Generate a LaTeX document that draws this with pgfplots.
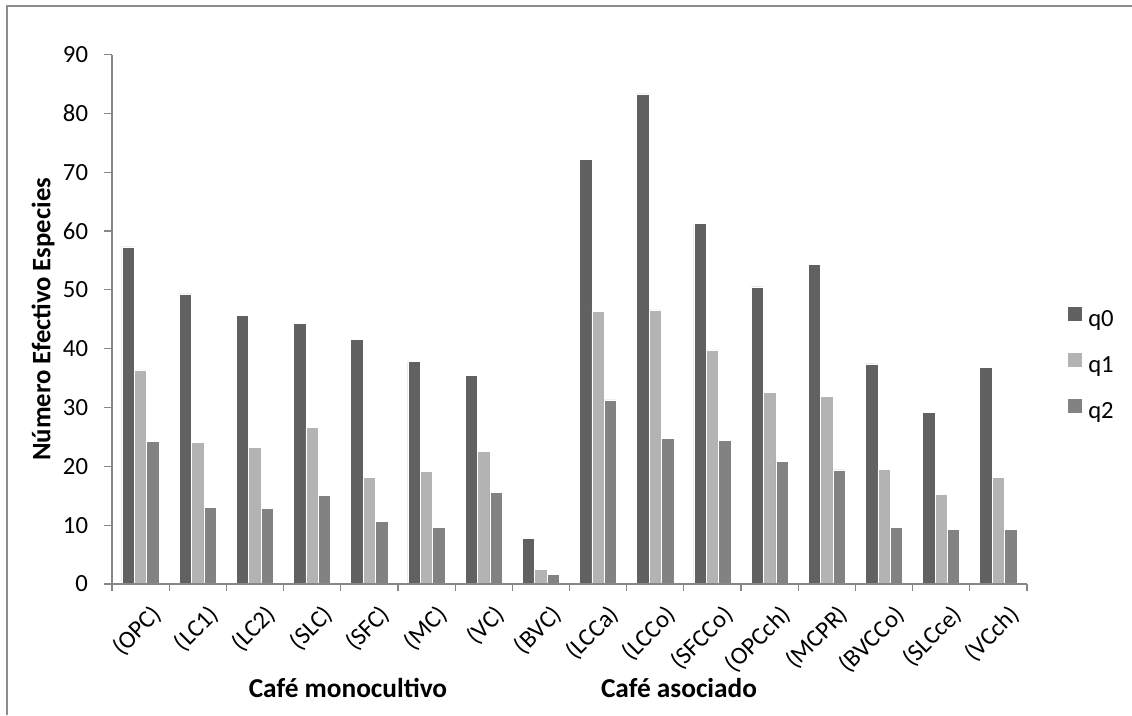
\documentclass[border=0pt]{standalone}
\usepackage{pgfplots}
\pgfplotsset{compat=1.18}
\usepackage{fontspec}
\setmainfont{Carlito}
\definecolor{cqa}{HTML}{616161}
\definecolor{cqb}{HTML}{B3B3B3}
\definecolor{cqc}{HTML}{828282}
\definecolor{axgray}{HTML}{878787}
\definecolor{framegray}{HTML}{8C8C8C}
\begin{document}
\begin{tikzpicture}[x=0.75pt,y=-0.75pt]
\path[use as bounding box] (0,0) rectangle (1132,715);
\draw[color=framegray, line width=0.8pt] (7,715) -- (7,6) -- (1132,6);
\begin{axis}[
  at={(84pt,-438pt)}, anchor=south west,
  scale only axis, width=686.25pt, height=397.1pt,
  xmin=-0.5, xmax=15.5, ymin=0, ymax=90,
  axis on top,
  axis lines=left, axis line style={-, color=axgray, line width=0.9pt},
  ybar=0pt, bar width=9.3pt,
  ytick={0,10,...,90},
  /pgf/number format/assume math mode=true,
  tick align=outside, major tick length=6pt, minor tick length=5.5pt,
  tick style={color=axgray, line width=0.9pt},
  yticklabel style={font=\fontsize{18.5}{22}\selectfont, inner sep=0pt, anchor=east, xshift=-11.8pt},
  xtick={0,1,...,15},
  xticklabels={(OPC),(LC1),(LC2),(SLC),(SFC),(MC),(VC),(BVC),(LCCa),(LCCo),(SFCCo),(OPCch),(MCPR),(BVCCo),(SLCce),(VCch)},
  major x tick style={draw=none},
  minor xtick={-0.5,0.5,...,15.5},
  minor x tick style={color=axgray, line width=0.9pt},
  xticklabel style={font=\fontsize{18.5}{22}\selectfont, rotate=45, anchor=east, inner sep=0pt, yshift=-19pt, xshift=-1pt},
  ylabel={\textbf{Número Efectivo Especies}},
  ylabel style={font=\fontsize{20}{24}\selectfont, at={(axis description cs:-0.0754,0.5)}, anchor=center},
  legend style={draw=none, fill=none, inner sep=0pt, at={(axis description cs:1.0448,0.5239)}, anchor=north west,
    font=\fontsize{18.5}{22}\selectfont, row sep=13.75pt, column sep=2.5pt,
    nodes={inner sep=2pt, text height=12pt, text depth=4pt}},
  legend cell align=left,
  legend image code/.code={\path[#1, draw=none] (0pt,0.3pt) rectangle (10.5pt,10.8pt);},
  clip=false,
]
\addplot[fill=cqa, draw=white, line width=0.5pt] coordinates {(0,57.3) (1,49.3) (2,45.7) (3,44.3) (4,41.6) (5,37.8) (6,35.4) (7,7.8) (8,72.2) (9,83.3) (10,61.3) (11,50.5) (12,54.3) (13,37.4) (14,29.1) (15,36.8)};
\addplot[fill=cqb, draw=white, line width=0.5pt] coordinates {(0,36.4) (1,24.0) (2,23.2) (3,26.6) (4,18.1) (5,19.1) (6,22.6) (7,2.5) (8,46.4) (9,46.6) (10,39.8) (11,32.6) (12,31.9) (13,19.5) (14,15.3) (15,18.1)};
\addplot[fill=cqc, draw=white, line width=0.5pt] coordinates {(0,24.2) (1,13.0) (2,12.9) (3,15.1) (4,10.6) (5,9.6) (6,15.6) (7,1.6) (8,31.3) (9,24.8) (10,24.4) (11,20.9) (12,19.4) (13,9.6) (14,9.3) (15,9.3)};
\legend{q0,q1,q2}
\node[font=\fontsize{20.5}{24}\selectfont\bfseries, anchor=base] at (axis description cs:0.2579,-0.2147) {Café monocultivo};
\node[font=\fontsize{20.5}{24}\selectfont\bfseries, anchor=base] at (axis description cs:0.6197,-0.2147) {Café asociado};
\end{axis}
\end{tikzpicture}
\end{document}
